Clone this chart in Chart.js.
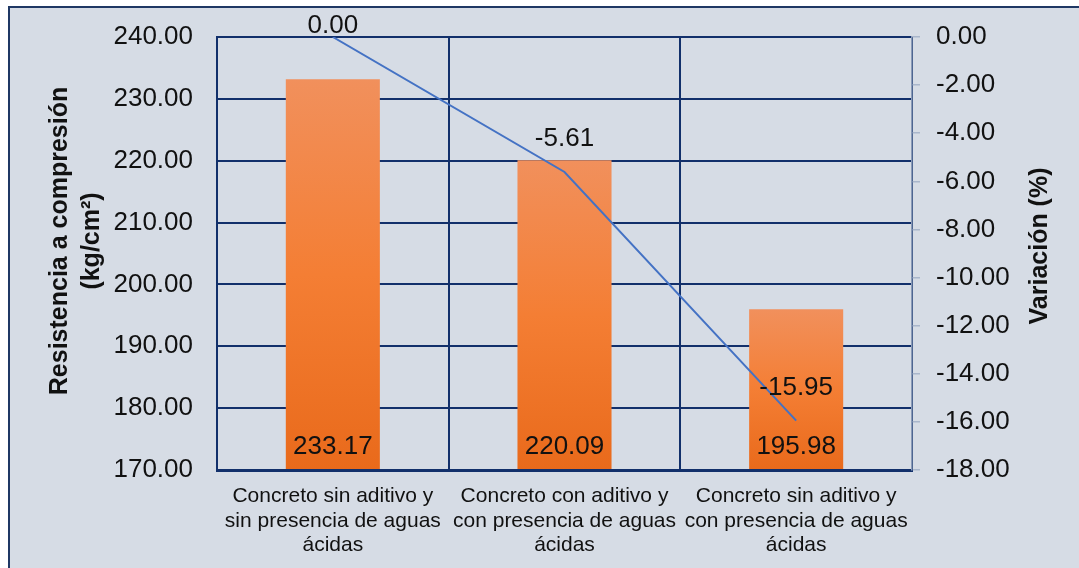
<!DOCTYPE html>
<html>
<head>
<meta charset="utf-8">
<script src="https://cdn.jsdelivr.net/npm/chart.js@4.4.1/dist/chart.umd.min.js"></script>
<style>
  html, body { margin: 0; padding: 0; background: #fff; overflow: hidden; }
  #marco { position: absolute; left: 8px; top: 6px; width: 1100px; height: 600px;
           background: #D6DCE5; border-left: 2px solid #1F3864; border-top: 2px solid #1F3864; }
  #grafico { position: absolute; left: 0; top: 0; }
</style>
</head>
<body>
<div id="marco"></div>
<canvas id="grafico" width="1079" height="568"></canvas>
<script>
// datos
var categorias = [
    ['Concreto sin aditivo y', 'sin presencia de aguas', 'ácidas'],
    ['Concreto con aditivo y', 'con presencia de aguas', 'ácidas'],
    ['Concreto sin aditivo y', 'con presencia de aguas', 'ácidas']
];
var resistencia = [233.17, 220.09, 195.98];
var variacion = [0.00, -5.61, -15.95];
var ejeResistencia = [170, 240, 10];   // min, max, paso
var ejeVariacion = [-18, 0, 2];

var azulOscuro = '#12306B';
var fuente = '"Liberation Sans", Arial, sans-serif';

// gradiente de cada barra, claro arriba y oscuro abajo
function colorBarra(context) {
    var chart = context.chart;
    if (!chart.chartArea || context.parsed == null) return '#F08040';
    var yTop = chart.scales.y.getPixelForValue(context.parsed.y);
    var g = chart.ctx.createLinearGradient(0, yTop, 0, chart.chartArea.bottom);
    g.addColorStop(0, '#F1905C');
    g.addColorStop(0.5, '#F47E34');
    g.addColorStop(1, '#E96A1B');
    return g;
}

// etiquetas de datos y títulos de ejes
var etiquetas = {
    id: 'etiquetas',
    afterDraw: function (chart) {
        var ctx = chart.ctx;
        var area = chart.chartArea;
        ctx.save();
        ctx.fillStyle = '#111';
        ctx.textAlign = 'center';
        ctx.textBaseline = 'middle';
        ctx.font = '26px ' + fuente;

        chart.getDatasetMeta(1).data.forEach(function (bar, i) {
            ctx.fillText(resistencia[i].toFixed(2), bar.x, area.bottom - 23);
        });
        chart.getDatasetMeta(0).data.forEach(function (pt, i) {
            var y = Math.max(pt.y - 33, area.top - 11);
            ctx.fillText(variacion[i].toFixed(2), pt.x, y);
        });

        ctx.font = 'bold 25px ' + fuente;
        ctx.save();
        ctx.translate(60, 241);
        ctx.rotate(-Math.PI / 2);
        ctx.fillText('Resistencia a compresión', 0, 0);
        ctx.fillText('(kg/cm²)', 0, 32);
        ctx.restore();

        ctx.save();
        ctx.translate(1040, 246);
        ctx.rotate(-Math.PI / 2);
        ctx.fillText('Variación (%)', 0, 0);
        ctx.restore();
        ctx.restore();
    }
};

var ctx = document.getElementById('grafico').getContext('2d');
var grafico = new Chart(ctx, {
    data: {
        labels: categorias,
        datasets: [{
            type: 'line',
            label: 'Variación (%)',
            data: variacion,
            yAxisID: 'y1',
            borderColor: '#4472C4',
            borderWidth: 2,
            pointRadius: 0,
            tension: 0,
            order: 0
        }, {
            type: 'bar',
            label: 'Resistencia a compresión',
            data: resistencia,
            yAxisID: 'y',
            backgroundColor: colorBarra,
            borderWidth: 0,
            barPercentage: 0.406,
            categoryPercentage: 1,
            base: ejeResistencia[0],
            order: 1
        }]
    },
    options: {
        responsive: false,
        animation: false,
        devicePixelRatio: 1,
        layout: { padding: { top: 37, bottom: 0, left: 0, right: 0 } },
        plugins: {
            legend: { display: false },
            tooltip: { enabled: false }
        },
        scales: {
            x: {
                offset: true,
                grid: {
                    offset: true,
                    drawTicks: false,
                    lineWidth: 2,
                    color: function (c) { return c.index === 3 ? 'rgba(0,0,0,0)' : azulOscuro; }
                },
                border: { color: azulOscuro, width: 3 },
                ticks: {
                    color: '#111',
                    font: { family: fuente, size: 21, lineHeight: 1.17 },
                    padding: 14,
                    maxRotation: 0,
                    autoSkip: false
                },
                afterFit: function (s) { s.height = 98; }
            },
            y: {
                position: 'left',
                min: ejeResistencia[0],
                max: ejeResistencia[1],
                // marcas invisibles para separar las etiquetas sin empujar el área
                grid: { color: azulOscuro, lineWidth: 2, drawTicks: true, tickLength: 24, tickColor: 'rgba(0,0,0,0)' },
                border: { color: azulOscuro, width: 2 },
                ticks: {
                    stepSize: ejeResistencia[2],
                    color: '#111',
                    font: { family: fuente, size: 26 },
                    padding: 0,
                    callback: function (v) { return v.toFixed(2); }
                },
                afterFit: function (s) { s.width = 217; }
            },
            y1: {
                position: 'right',
                min: ejeVariacion[0],
                max: ejeVariacion[1],
                grid: { drawOnChartArea: false, color: '#A9B6CB', tickLength: 8, lineWidth: 1.5 },
                border: { color: '#8A9BB8', width: 1.5 },
                ticks: {
                    stepSize: ejeVariacion[2],
                    color: '#111',
                    font: { family: fuente, size: 26 },
                    padding: 16,
                    callback: function (v) { return v.toFixed(2); }
                },
                afterFit: function (s) { s.width = 167; }
            }
        }
    },
    plugins: [etiquetas]
});
</script>
</body>
</html>
